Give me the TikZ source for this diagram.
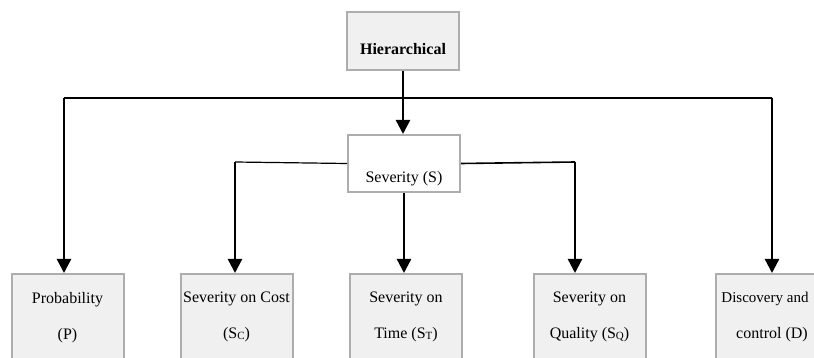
\documentclass[tikz,border=0pt]{standalone}
\usepackage{fontspec}
\setmainfont{Liberation Serif}
\usetikzlibrary{positioning}
\usetikzlibrary{arrows.meta}
\definecolor{boxgray}{HTML}{ADADAD}
\definecolor{boxfill}{HTML}{F0F0F0}
\newcommand{\lowidx}[1]{{\fontsize{11}{11}\selectfont\raisebox{-1pt}{#1}}}

\begin{document}
\begin{tikzpicture}[x=1pt,y=-1pt,
    box/.style={draw=boxgray, line width=2pt, fill=boxfill, inner sep=0pt, minimum width=112pt, font=\fontsize{16}{18}\selectfont},
    leaf/.style={box, anchor=north, align=center, inner xsep=2pt, inner ysep=18pt},
    link/.style={line width=1.2pt},
    arr/.style={line width=2.4pt, -{Triangle[length=14pt,width=14pt]}}]
            \path[use as bounding box] (0,0) rectangle (814,358);
            \clip (0,0) rectangle (814,358);

            \node[box, text height=43pt, text depth=15pt, font=\bfseries\fontsize{16}{18}\selectfont] (hier) at (403,41) {Hierarchical};
            \node[box, fill=white, text height=48pt, text depth=9pt] (sev) at (404,163.5) {Severity (S)};

            \node[leaf] (prob) at (67.5,273) {Probability\\[18pt](P)};
            \node[leaf] (cost) at (236.5,273) {Severity on Cost\\[18pt](S\lowidx{C})};
            \node[leaf] (time) at (406,273) {Severity on\\[18pt]Time (S\lowidx{T})};
            \node[leaf] (qual) at (589.5,273) {Severity on\\[18pt]Quality (S\lowidx{Q})};
            \node[leaf] (disc) at (772,273) {{\fontsize{15}{18}\selectfont\hspace*{-14pt}Discovery and}\\[18pt]control (D)};

            \coordinate (pl) at (64,98);
            \coordinate (pr) at (772,98);
            \coordinate (sl) at (235,162);
            \coordinate (sr) at (575,162);

            \draw[link] (pl) -- (pr);
            \draw[arr] (hier.south) -- (hier.south |- sev.north);
            \draw[arr] (pl) -- (pl |- prob.north);
            \draw[arr] (pr) -- (disc.north);

            \draw[link] (sev.west) -- (sl);
            \draw[link, line width=1.6pt] (sev.east) -- (sr);
            \draw[arr] (sl) -- (sl |- cost.north);
            \draw[arr] (sev.south) -- (sev.south |- time.north);
            \draw[arr] (sr) -- (sr |- qual.north);
        \end{tikzpicture}
\end{document}
